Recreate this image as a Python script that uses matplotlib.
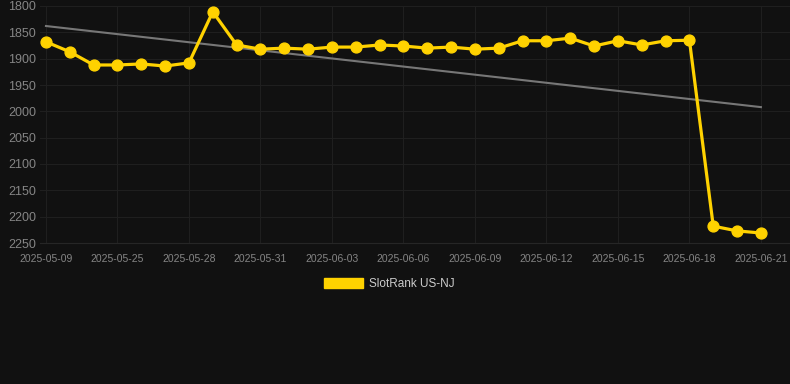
#!/usr/bin/env python3
"""SlotRank US-NJ rank history, dark theme, inverted rank axis."""

import matplotlib
matplotlib.use("Agg")
import matplotlib.pyplot as plt
from matplotlib.patches import Patch

# Data (rank per observation, lower is better)
dates = [
    "2025-05-09", "2025-05-23", "2025-05-24", "2025-05-25", "2025-05-26",
    "2025-05-27", "2025-05-28", "2025-05-29", "2025-05-30", "2025-05-31",
    "2025-06-01", "2025-06-02", "2025-06-03", "2025-06-04", "2025-06-05",
    "2025-06-06", "2025-06-07", "2025-06-08", "2025-06-09", "2025-06-10",
    "2025-06-11", "2025-06-12", "2025-06-13", "2025-06-14", "2025-06-15",
    "2025-06-16", "2025-06-17", "2025-06-18", "2025-06-19", "2025-06-20",
    "2025-06-21",
]
ranks = [
    1868, 1887, 1912, 1912, 1910, 1914, 1908, 1811, 1874, 1882,
    1880, 1882, 1878, 1878, 1874, 1876, 1880, 1878, 1882, 1880,
    1866, 1866, 1861, 1876, 1866, 1874, 1866, 1865, 2218, 2227,
    2231,
]
trend_ends = [1838, 1992]
y_ticks = [1800, 1850, 1900, 1950, 2000, 2050, 2100, 2150, 2200, 2250]
series_name = "SlotRank US-NJ"

# Style
BG = "#111111"
GRID = "#1f1f1f"
TICK_COLOR = "#858585"
LINE_COLOR = "#FFD200"
TREND_COLOR = "#777777"

plt.rcParams["font.family"] = ["Liberation Sans", "DejaVu Sans"]

fig = plt.figure(figsize=(7.9, 3.84), dpi=100, facecolor=BG)
ax = fig.add_axes([40 / 790, 1 - 243 / 384, 750 / 790, 237 / 384])
ax.set_facecolor(BG)

x = list(range(len(dates)))
ax.plot([x[0], x[-1]], trend_ends, color=TREND_COLOR, linewidth=1.5, zorder=2)
ax.plot(x, ranks, color=LINE_COLOR, linewidth=2.3, marker="o",
        markersize=7.8, zorder=3)

ax.set_ylim(2250, 1800)
ax.set_xlim(-0.25, 31.22)
ax.set_yticks(y_ticks)
ax.set_xticks(x[::3])
ax.set_xticklabels(dates[::3])

ax.grid(True, color=GRID, linewidth=0.8)
ax.set_axisbelow(True)
for side in ["top", "right", "left"]:
    ax.spines[side].set_visible(False)
ax.spines["bottom"].set_color("#262626")
ax.tick_params(axis="y", length=0, pad=3, labelsize=9, labelcolor=TICK_COLOR)
ax.tick_params(axis="x", length=0, pad=8, labelsize=7.5, labelcolor=TICK_COLOR)

fig.legend(handles=[Patch(facecolor=LINE_COLOR, edgecolor=LINE_COLOR)],
           labels=[series_name], loc="center",
           bbox_to_anchor=(0.5 - 6 / 790, 1 - 284 / 384),
           frameon=False, fontsize=8.5, labelcolor="#cccccc",
           handlelength=3.3, handleheight=1.0, handletextpad=0.5)

fig.savefig("out.png", dpi=100, facecolor=BG)
